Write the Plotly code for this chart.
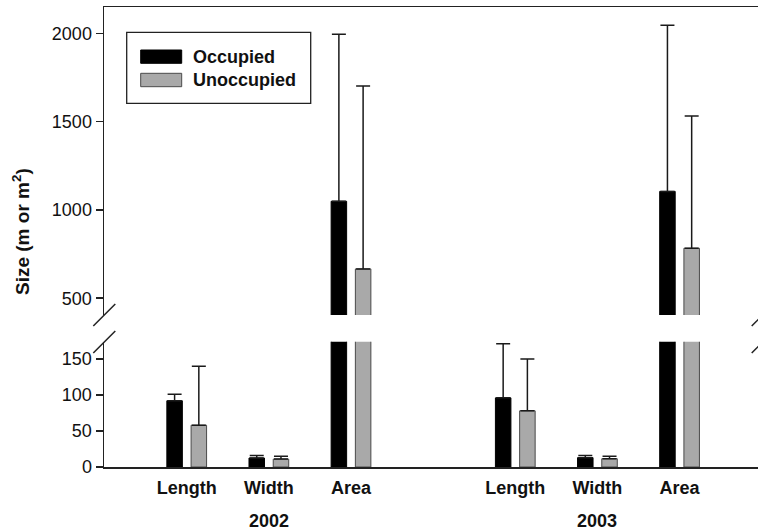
import plotly.graph_objects as go

# ---------------- data ----------------
categories = ["Length", "Width", "Area"]
years = ["2002", "2003"]
series_names = ["Occupied", "Unoccupied"]
occupied_mean = [92, 12.5, 1049, 96, 13, 1105]
occupied_err = [9, 3.5, 946, 75, 3, 940]
unoccupied_mean = [58, 11, 666, 78, 11.5, 783]
unoccupied_err = [82, 4, 1036, 72, 3.5, 749]
lower_ticks = [0, 50, 100, 150]
upper_ticks = [500, 1000, 1500, 2000]
y_title = "Size (m or m<sup>2</sup>)"

# ---------------- layout constants ----------------
W, H = 758, 532
ML, MR, MT, MB = 104, 0, 7, 65
PW, PH = W - ML - MR, H - MT - MB
LOWER_RANGE = [0, 174]
UPPER_RANGE = [405, 2149]
X_RANGE = [-1.007, 6.955]
FONT = "Arial, Liberation Sans, sans-serif"
colors = ["#000000", "#a9a9a9"]
outlines = ["#000000", "#4a4a4a"]
FS = 18


def px(x):
    return (x - ML) / PW


def py(y):
    return (H - MB - y) / PH


lower_dom = [0, py(341.7)]
upper_dom = [py(315), 1]

# x positions of the bar groups (category index within year, gap between years)
xpos = [yi * (len(categories) + 1) + ci for yi in range(len(years)) for ci in range(len(categories))]

means = [occupied_mean, unoccupied_mean]
errs = [occupied_err, unoccupied_err]

fig = go.Figure()
for k in range(2):
    lower_err = [e if m < LOWER_RANGE[1] else 0 for m, e in zip(means[k], errs[k])]
    for axis_suffix, err in (("", lower_err), ("2", errs[k])):
        fig.add_trace(go.Bar(
            x=xpos, y=means[k], name=series_names[k],
            xaxis="x" + axis_suffix, yaxis="y" + axis_suffix,
            marker=dict(color=colors[k], line=dict(color=outlines[k], width=1)),
            error_y=dict(type="data", symmetric=False, array=err,
                         arrayminus=[0] * len(err), color="#1a1a1a",
                         thickness=1.5, width=7),
            showlegend=False, hoverinfo="skip",
        ))

axis_common = dict(showgrid=False, zeroline=False, showline=True,
                   linecolor="#222222", linewidth=1.5)

fig.update_layout(
    width=W, height=H,
    margin=dict(l=ML, r=MR, t=MT, b=MB),
    paper_bgcolor="white", plot_bgcolor="white",
    barmode="group", bargap=0.41, bargroupgap=0.36,
    font=dict(family=FONT, size=FS, color="#111111"),
    showlegend=False,
    xaxis=dict(**axis_common, range=X_RANGE, anchor="y",
               tickmode="array", tickvals=xpos,
               ticktext=[f"<b>{c}</b>" for _ in years for c in categories],
               ticks="", ticklabelstandoff=4,
               tickfont=dict(size=FS, color="#111111")),
    xaxis2=dict(**axis_common, range=X_RANGE, anchor="y2", matches="x",
                side="top", showticklabels=False, ticks=""),
    yaxis=dict(**axis_common, domain=lower_dom, range=LOWER_RANGE,
               tickmode="array", tickvals=lower_ticks, ticks="outside",
               ticklen=7, tickwidth=1.5, tickcolor="#222222",
               tickfont=dict(size=FS)),
    yaxis2=dict(**axis_common, domain=upper_dom, range=UPPER_RANGE,
                tickmode="array", tickvals=upper_ticks, ticks="outside",
                ticklen=7, tickwidth=1.5, tickcolor="#222222",
                tickfont=dict(size=FS)),
)

annotations = []
# year labels under the middle category of each group
for yi, yr in enumerate(years):
    mid = xpos[yi * len(categories) + len(categories) // 2]
    annotations.append(dict(x=mid, xref="x", y=py(520.5), yref="paper",
                            text=f"<b>{yr}</b>", showarrow=False,
                            xanchor="center", yanchor="middle",
                            font=dict(size=FS)))
# y axis title
annotations.append(dict(x=px(21), xref="paper", y=py(232), yref="paper",
                        text=f"<b>{y_title}</b>", textangle=-90,
                        showarrow=False, xanchor="center", yanchor="middle",
                        font=dict(size=19)))

shapes = []
# legend box
shapes.append(dict(type="rect", xref="paper", yref="paper",
                   x0=px(126.7), x1=px(310.7), y0=py(103.3), y1=py(32.3),
                   line=dict(color="#222222", width=1.3), fillcolor="white"))
leg_rows = [(50, 63.3, 56.7), (73.3, 86.7, 80)]
for k, (t, b, c) in enumerate(leg_rows):
    shapes.append(dict(type="rect", xref="paper", yref="paper",
                       x0=px(140.7), x1=px(181.7), y0=py(b), y1=py(t),
                       line=dict(color=outlines[k], width=1),
                       fillcolor=colors[k]))
    annotations.append(dict(x=px(191), xref="paper", y=py(c), yref="paper",
                            text=f"<b>{series_names[k]}</b>", showarrow=False,
                            xanchor="left", yanchor="middle",
                            font=dict(size=FS)))
# axis break marks
for x0 in (93.3, 751.7):
    for (ya, yb) in ((326, 304), (353, 331)):
        shapes.append(dict(type="line", xref="paper", yref="paper",
                           x0=px(x0), x1=px(x0 + 22), y0=py(ya), y1=py(yb),
                           line=dict(color="#222222", width=1.5)))

fig.update_layout(annotations=annotations, shapes=shapes)
fig.write_html(
    "out.html",
    config={"displayModeBar": False, "staticPlot": True},
    post_script="document.body.style.margin='0';document.body.style.overflow='hidden';",
)
